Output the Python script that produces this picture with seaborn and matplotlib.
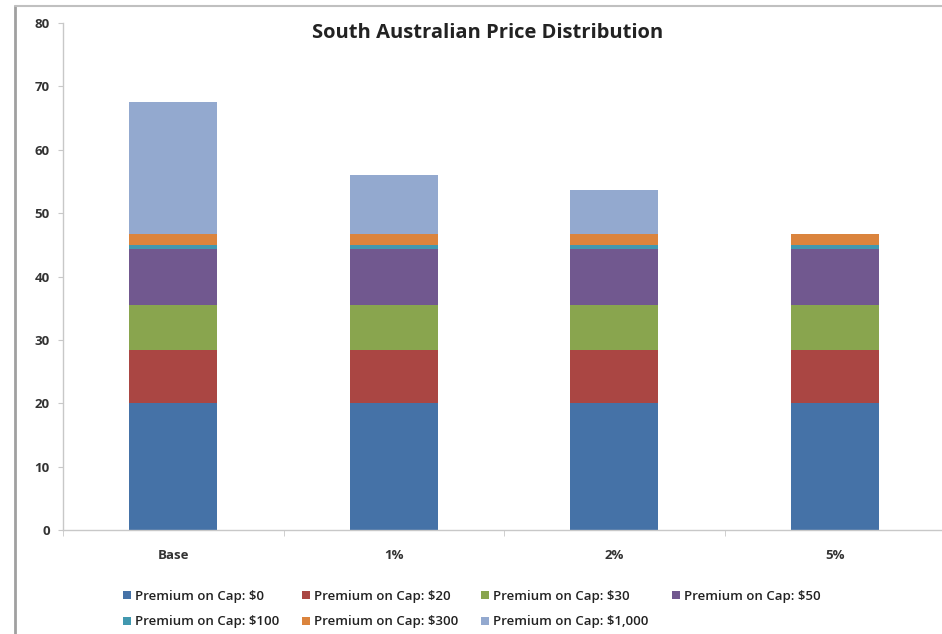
import matplotlib
matplotlib.use('Agg')
import matplotlib.pyplot as plt
import seaborn as sns
import pandas as pd
from matplotlib.lines import Line2D
from matplotlib.patches import Patch

# Data
scenarios = ['Base', '1%', '2%', '5%']
series = ['Premium on Cap: $0', 'Premium on Cap: $20', 'Premium on Cap: $30',
          'Premium on Cap: $50', 'Premium on Cap: $100', 'Premium on Cap: $300',
          'Premium on Cap: $1,000']
cap_0 = [20.0, 20.0, 20.0, 20.0]
cap_20 = [8.4, 8.4, 8.4, 8.4]
cap_30 = [7.1, 7.1, 7.1, 7.1]
cap_50 = [8.8, 8.8, 8.8, 8.8]
cap_100 = [0.7, 0.7, 0.7, 0.7]
cap_300 = [1.7, 1.7, 1.7, 1.7]
cap_1000 = [20.8, 9.3, 6.9, 0.0]

colors = ['#4572A7', '#AA4643', '#89A54E', '#71588F', '#4198AF', '#DB843D', '#93A9CF']

df = pd.DataFrame({'scenario': scenarios, series[0]: cap_0, series[1]: cap_20,
                   series[2]: cap_30, series[3]: cap_50, series[4]: cap_100,
                   series[5]: cap_300, series[6]: cap_1000})

sns.set_style('white')
plt.rcParams['font.family'] = ['Open Sans', 'DejaVu Sans']

fig = plt.figure(figsize=(9.42, 6.34), dpi=100)
ax = fig.add_axes([63/942, 1 - 530/634, 882/942, 507/634])

bottom = [0.0] * len(scenarios)
for s, c in zip(series, colors):
  sns.barplot(ax=ax, data=df, x='scenario', y=s, color=c, bottom=bottom,
              width=0.4, saturation=1, linewidth=0, order=scenarios)
  bottom = [b + v for b, v in zip(bottom, df[s])]

ax.set_ylim(0, 80)
ax.set_xlim(-0.5, 3.5)
ax.set_yticks(range(0, 81, 10))
ax.set_xticks(range(4))
ax.set_xticklabels(scenarios)
ax.set_xticks([-0.5, 0.5, 1.5, 2.5, 3.5], minor=True)
ax.set_xlabel('')
ax.set_ylabel('')
for side in ['top', 'right']:
  ax.spines[side].set_visible(False)
for side in ['left', 'bottom']:
  ax.spines[side].set_color('#c8c8c8')
  ax.spines[side].set_linewidth(1)
ax.tick_params(axis='y', which='major', length=3.6, color='#c8c8c8', labelsize=9.5,
               labelcolor='#333333', pad=6, left=True)
ax.tick_params(axis='x', which='major', length=0, labelsize=9.5, labelcolor='#333333', pad=14)
ax.tick_params(axis='x', which='minor', length=4, color='#c8c8c8', bottom=True)
for lbl in ax.get_xticklabels() + ax.get_yticklabels():
  lbl.set_fontweight('bold')

fig.text(488/942, 1 - 33/634, 'South Australian Price Distribution', ha='center', va='center',
         fontsize=14.5, fontweight='bold', color='#222222')

# outer chart frame
fig.add_artist(Line2D([15/942, 15/942], [0, 1 - 6/634], transform=fig.transFigure,
                      color='#a0a0a0', lw=2))
fig.add_artist(Line2D([15/942, 1], [1 - 6/634, 1 - 6/634], transform=fig.transFigure,
                      color='#c0c0c0', lw=1.5))

# legend filled row by row like the original
order = [0, 4, 1, 5, 2, 6, 3]
handles = [Patch(facecolor=colors[i], edgecolor='none') for i in order]
labels = [series[i] for i in order]
leg = fig.legend(handles, labels, ncol=4, loc='upper left', bbox_to_anchor=(111/942, 1 - 578/634),
                 frameon=False, fontsize=9.5, handlelength=0.6, handleheight=0.6,
                 handletextpad=0.3, columnspacing=1.75, labelspacing=0.95)
for t in leg.get_texts():
  t.set_fontweight('semibold')
  t.set_color('#222222')

fig.savefig('out.png', dpi=100)
